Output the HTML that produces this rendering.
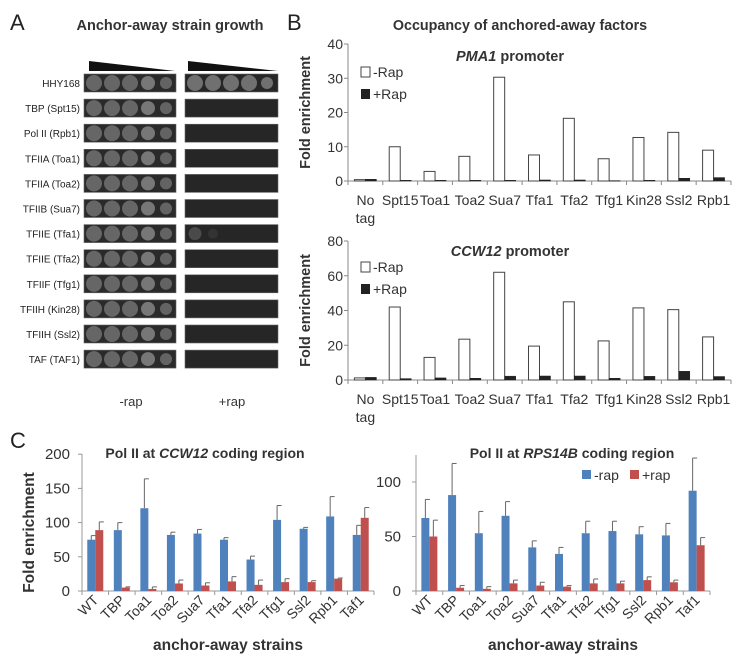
<!DOCTYPE html>
<html><head><meta charset="utf-8"><style>
html,body{margin:0;padding:0;background:#fff;width:750px;height:657px;overflow:hidden}
svg{display:block;font-family:"Liberation Sans",sans-serif}
</style></head><body>
<svg id="fig" width="750" height="657" viewBox="0 0 750 657" xmlns="http://www.w3.org/2000/svg">
<text x="10" y="30" font-size="22" fill="#222">A</text>
<text x="170" y="30" font-size="14.5" font-weight="bold" text-anchor="middle" fill="#333">Anchor-away strain growth</text>
<polygon points="89,61 175,71 89,71" fill="#111"/>
<polygon points="188,61 278,71 188,71" fill="#111"/>
<text x="131" y="406" font-size="13" text-anchor="middle" fill="#333">-rap</text>
<text x="232" y="406" font-size="13" text-anchor="middle" fill="#333">+rap</text>
<g id="plates"></g>

<text x="287" y="30" font-size="22" fill="#222">B</text>
<text x="520" y="30" font-size="14.3" font-weight="bold" text-anchor="middle" fill="#333">Occupancy of anchored-away factors</text>
<g id="b1"></g>
<g id="b2"></g>

<text x="10" y="448" font-size="22" fill="#222">C</text>
<g id="c1"></g>
<g id="c2"></g>
</svg>
<script>
// Panel A data
const strains = ["HHY168","TBP (Spt15)","Pol II (Rpb1)","TFIIA (Toa1)","TFIIA (Toa2)","TFIIB (Sua7)","TFIIE (Tfa1)","TFIIE (Tfa2)","TFIIF (Tfg1)","TFIIH (Kin28)","TFIIH (Ssl2)","TAF (TAF1)"];
const plusRapSpots = [5,0,0,0,0,0,2,0,0,0,0,0];

// Panel B data
const bCats = ["No|tag","Spt15","Toa1","Toa2","Sua7","Tfa1","Tfa2","Tfg1","Kin28","Ssl2","Rpb1"];
const pmaMinus = [0.4,10,2.8,7.2,30.3,7.6,18.3,6.5,12.7,14.2,9];
const pmaPlus = [0.5,0.2,0.2,0.2,0.2,0.3,0.3,0.1,0.2,0.8,1.0];
const pmaTicks = [0,10,20,30,40];
const ccwMinus = [1.2,42,13,23.5,62,19.5,45,22.5,41.5,40.5,24.8];
const ccwPlus = [1.5,0.8,1.2,1.0,2.2,2.3,2.3,1.0,2.1,5,2];
const ccwTicks = [0,20,40,60,80];

// Panel C data
const cCats = ["WT","TBP","Toa1","Toa2","Sua7","Tfa1","Tfa2","Tfg1","Ssl2","Rpb1","Taf1"];
const ccwCodMinus = [75,89,121,82,84,75,46,104,91,109,82];
const ccwCodMinusErr = [6,11,43,4,6,3,5,21,2,29,14];
const ccwCodPlus = [89,5,3,11,8,14,9,13,13,18,107];
const ccwCodPlusErr = [12,1,3,5,4,7,7,5,2,1,15];
const ccwCodTicks = [0,50,100,150,200];
const rpsMinus = [67,88,53,69,40,34,53,55,52,51,92];
const rpsMinusErr = [17,29,20,13,6,6,11,9,7,11,30];
const rpsPlus = [50,3,2,7,5,4,7,7,10,8,42];
const rpsPlusErr = [15,2,2,3,3,1,4,2,3,2,7];
const rpsTicks = [0,50,100];

const NS="http://www.w3.org/2000/svg";
function mk(parent,tag,attrs,text){const e=document.createElementNS(NS,tag);for(const k in attrs)e.setAttribute(k,attrs[k]);if(text!==undefined)e.textContent=text;parent.appendChild(e);return e;}

// Panel A
const plates=document.getElementById('plates');
strains.forEach((s,i)=>{
  const cy=83+i*25.1;
  const t=mk(plates,'text',{x:80,y:cy+4,'font-size':10,'text-anchor':'end',fill:'#222'},s);
  
  
  const p1=mk(plates,'rect',{x:84,y:cy-9,width:92,height:18,fill:'#2a2a2a',stroke:'#666','stroke-width':0.6});
  
  
  const p2=mk(plates,'rect',{x:185,y:cy-9,width:93,height:18,fill:'#262626',stroke:'#666','stroke-width':0.6});
  
  
  for(let k=0;k<5;k++){
    const c=mk(plates,'circle',{cx:94+k*18,cy:cy,r:k<3?8:(k<4?7:6),fill:k<3?'#666':'#777',opacity:k<4?1:0.75});
    
    
  }
  for(let k=0;k<plusRapSpots[i];k++){
    const faint=plusRapSpots[i]<5;
    const c=mk(plates,'circle',{cx:195+k*18,cy:cy,r:faint?(k?5:6.5):(k<4?8:6),fill:faint?(k?'#333':'#4a4a4a'):'#707070'});
    
    
  }
});

// Panel B charts
function bChart(gid,minus,plus,ticks,y0,pxPerUnit,subtitle,subY){
  const g=document.getElementById(gid);
  const x0=348,x1=731,n=bCats.length,cw=(x1-x0)/n,w=11;
  const ys=v=>y0-v*pxPerUnit;
  const top=ys(ticks[ticks.length-1]);
  const ax=mk(g,'line',{x1:x0,y1:top,x2:x0,y2:y0,stroke:'#888'});
  
  
  const xa=mk(g,'line',{x1:x0,y1:y0,x2:x1,y2:y0,stroke:'#888'});
  
  
  ticks.forEach(t=>{
    mk(g,'line',{x1:x0-4,y1:ys(t),x2:x0,y2:ys(t),stroke:'#888'});
    const tl=mk(g,'text',{x:343,y:ys(t)+5,'font-size':14,'text-anchor':'end',fill:'#333'},t);
    
    
  });
  for(let i=0;i<=n;i++) mk(g,'line',{x1:x0+i*cw,y1:y0,x2:x0+i*cw,y2:y0+4,stroke:'#888'});
  bCats.forEach((c,i)=>{
    const cx=x0+cw*(i+0.5);
    const b1=mk(g,'rect',{x:cx-w,y:ys(minus[i]),width:w,height:minus[i]*pxPerUnit,fill:'#fff',stroke:'#444','stroke-width':1});
    
    
    const b2=mk(g,'rect',{x:cx,y:ys(plus[i]),width:w,height:Math.max(plus[i]*pxPerUnit,0.5),fill:'#222',stroke:'#222','stroke-width':0.5});
    
    
    const parts=c.split('|');
    parts.forEach((p,k)=>{
      const tl=mk(g,'text',{x:cx,y:y0+24+k*18,'font-size':14,'text-anchor':'middle',fill:'#333'},p);
      
      
    });
  });
  const yt=mk(g,'text',{x:0,y:0,'font-size':14.5,'font-weight':'bold','text-anchor':'middle',fill:'#333',transform:`translate(310,${(top+y0)/2}) rotate(-90)`},'Fold enrichment');
  
  
  const st=mk(g,'text',{x:510,y:subY,'font-size':14.5,'font-weight':'bold','text-anchor':'middle',fill:'#333'});
  
  
  mk(st,'tspan',{'font-style':'italic'},subtitle);
  mk(st,'tspan',{},' promoter');
  const ly=subY+6;
  const l1=mk(g,'rect',{x:361,y:ly,width:9,height:10,fill:'#fff',stroke:'#444'});
  
  
  const lt1=mk(g,'text',{x:373,y:ly+10,'font-size':14,fill:'#333'},'-Rap');
  
  
  const l2=mk(g,'rect',{x:361,y:ly+22,width:9,height:10,fill:'#222'});
  
  
  const lt2=mk(g,'text',{x:373,y:ly+32,'font-size':14,fill:'#333'},'+Rap');
  
  
}
bChart('b1',pmaMinus,pmaPlus,pmaTicks,181,3.425,'PMA1',61);
bChart('b2',ccwMinus,ccwPlus,ccwTicks,380,1.7375,'CCW12',256);

// Panel C charts
function cChart(gid,x0,x1,y0,pxPerUnit,axisTop,ticks,blue,blueErr,red,redErr,title,titleX,tickX,ytitle,legend){
  const g=document.getElementById(gid);
  const n=cCats.length,cw=(x1-x0)/n,w=8;
  const ys=v=>y0-v*pxPerUnit;
  mk(g,'line',{x1:x0,y1:axisTop,x2:x0,y2:y0,stroke:'#999'});
  mk(g,'line',{x1:x0,y1:y0,x2:x1,y2:y0,stroke:'#999'});
  ticks.forEach(t=>{
    mk(g,'line',{x1:x0-4,y1:ys(t),x2:x0,y2:ys(t),stroke:'#999'});
    const tl=mk(g,'text',{x:tickX,y:ys(t)+5,'font-size':15,'text-anchor':'end',fill:'#333'},t);
    
    
  });
  for(let i=0;i<=n;i++) mk(g,'line',{x1:x0+i*cw,y1:y0,x2:x0+i*cw,y2:y0+4,stroke:'#999'});
  cCats.forEach((c,i)=>{
    const cx=x0+cw*(i+0.5);
    const b=mk(g,'rect',{x:cx-w,y:ys(blue[i]),width:w,height:blue[i]*pxPerUnit,fill:'#4f81bd'});
    
    
    mk(g,'line',{x1:cx-w/2,y1:ys(blue[i]),x2:cx-w/2,y2:ys(blue[i]+blueErr[i]),stroke:'#666'});
    mk(g,'line',{x1:cx-w/2,y1:ys(blue[i]+blueErr[i]),x2:cx+0.5,y2:ys(blue[i]+blueErr[i]),stroke:'#666'});
    const r=mk(g,'rect',{x:cx,y:ys(red[i]),width:w,height:red[i]*pxPerUnit,fill:'#c0504d'});
    
    
    mk(g,'line',{x1:cx+w/2,y1:ys(red[i]),x2:cx+w/2,y2:ys(red[i]+redErr[i]),stroke:'#666'});
    mk(g,'line',{x1:cx+w/2,y1:ys(red[i]+redErr[i]),x2:cx+w+0.5,y2:ys(red[i]+redErr[i]),stroke:'#666'});
    const tl=mk(g,'text',{x:0,y:0,'font-size':14,'text-anchor':'end',fill:'#333',transform:`translate(${cx+4},${y0+10}) rotate(-45)`},c);
    
    
  });
  const tt=mk(g,'text',{x:titleX,y:458,'font-size':14,'font-weight':'bold','text-anchor':'middle',fill:'#333'});
  
  
  mk(tt,'tspan',{},'Pol II at ');
  mk(tt,'tspan',{'font-style':'italic'},title);
  mk(tt,'tspan',{},' coding region');
  const xt=mk(g,'text',{x:(x0+x1)/2,y:650,'font-size':15.5,'font-weight':'bold','text-anchor':'middle',fill:'#333'},'anchor-away strains');
  
  
  if(ytitle){
    const yt=mk(g,'text',{x:0,y:0,'font-size':15.5,'font-weight':'bold','text-anchor':'middle',fill:'#333',transform:`translate(34,${(axisTop+y0)/2+10}) rotate(-90)`},'Fold enrichment');
    
    
  }
  if(legend){
    const s1=mk(g,'rect',{x:582,y:470,width:9,height:9,fill:'#4f81bd'});
    
    
    const t1=mk(g,'text',{x:594,y:480,'font-size':14,fill:'#333'},'-rap');
    
    
    const s2=mk(g,'rect',{x:630,y:470,width:9,height:9,fill:'#c0504d'});
    
    
    const t2=mk(g,'text',{x:642,y:480,'font-size':14,fill:'#333'},'+rap');
    
    
  }
}
cChart('c1',82,374,591,0.684,454,ccwCodTicks,ccwCodMinus,ccwCodMinusErr,ccwCodPlus,ccwCodPlusErr,'CCW12',205,70,true,false);
cChart('c2',416,710,591,1.09,455,rpsTicks,rpsMinus,rpsMinusErr,rpsPlus,rpsPlusErr,'RPS14B',572,401,false,true);
</script>
</body></html>
